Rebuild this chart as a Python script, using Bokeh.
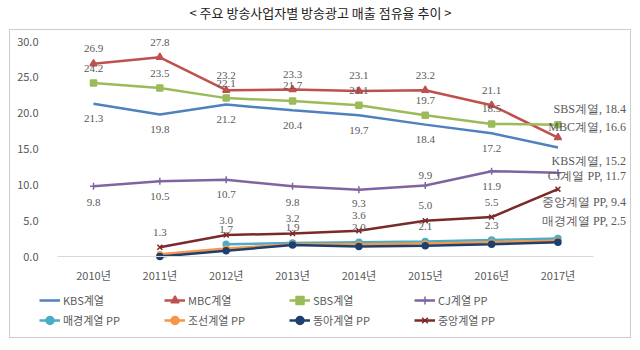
import math
from bokeh.plotting import figure
from bokeh.models import (ColumnDataSource, Range1d, FixedTicker, LabelSet, Label,
                          Legend, LegendItem, BoxAnnotation, NumeralTickFormatter)
from bokeh.embed import file_html
from bokeh.resources import INLINE

years = ["2010년", "2011년", "2012년", "2013년", "2014년", "2015년", "2016년", "2017년"]
N = float("nan")

kbs = [21.3, 19.8, 21.2, 20.4, 19.7, 18.4, 17.2, 15.2]
mbc = [26.9, 27.8, 23.2, 23.3, 23.1, 23.2, 21.1, 16.6]
sbs = [24.2, 23.5, 22.1, 21.7, 21.1, 19.7, 18.5, 18.4]
cj = [9.8, 10.5, 10.7, 9.8, 9.3, 9.9, 11.9, 11.7]
mk = [N, N, 1.7, 1.9, 2.0, 2.1, 2.3, 2.5]
chosun = [N, 0.3, 1.1, 1.7, 1.7, 1.8, 2.0, 2.2]
donga = [N, 0.0, 0.8, 1.6, 1.4, 1.5, 1.7, 2.0]
joongang = [N, 1.3, 3.0, 3.2, 3.6, 5.0, 5.5, 9.4]
y_ticks = [0, 5, 10, 15, 20, 25, 30]

names = ["KBS계열", "MBC계열", "SBS계열", "CJ계열 PP", "매경계열 PP", "조선계열 PP", "동아계열 PP", "중앙계열 PP"]
series = [kbs, mbc, sbs, cj, mk, chosun, donga, joongang]
colors = ["#4F81BD", "#C0504D", "#9BBB59", "#8064A2", "#4BACC6", "#F79646", "#1F3F6E", "#7A2A28"]
markers = [None, "triangle", "square", "cross", "circle", "circle", "circle", "x"]
msizes = [0, 7, 6, 7, 6, 5, 6, 7]
show_labels = [True, True, True, True, True, False, False, True]
# vertical offsets (px, positive = up) for the value labels of each series
label_dy = [
    [-15] * 7,
    [15] * 7,
    [15] * 7,
    [-16, -15, -15, -16, -14, 10, -15],
    [15] * 7,
    None, None,
    [15] * 7,
]
end_dy = [-13, 11, 16, -3, 18, 0, 0, -13]

FONT = "Noto Sans CJK KR"
TXT = "#595959"

# layout: the plotting frame covers the whole canvas; axes are pinned inside it
W, H = 640, 350
X0, DX = 93.0, 66.35        # pixel of first category, pixel step between categories
Y0, DY = 256.0, 215.0 / 30  # pixel of value 0, pixels per unit

p = figure(width=W, height=H,
           x_range=Range1d(-X0 / DX, (W - X0) / DX),
           y_range=Range1d(-(H - Y0) / DY, Y0 / DY),
           output_backend="svg", toolbar_location=None,
           min_border=0, outline_line_color=None)
p.grid.visible = False

xa = p.xaxis[0]
xa.fixed_location = 0
xa.bounds = (-0.54, 7.54)
xa.ticker = FixedTicker(ticks=list(range(len(years))))
xa.major_label_overrides = {i: y for i, y in enumerate(years)}
xa.axis_line_color = "#D9D9D9"
xa.axis_line_width = 1
xa.major_label_standoff = 4

ya = p.yaxis[0]
ya.fixed_location = -36 / DX
ya.ticker = FixedTicker(ticks=y_ticks)
ya.formatter = NumeralTickFormatter(format="0.0")
ya.axis_line_color = None
ya.major_label_standoff = 13

for ax in (xa, ya):
    ax.major_tick_line_color = None
    ax.minor_tick_line_color = None
    ax.major_label_text_font = FONT
    ax.major_label_text_font_size = "11px"
    ax.major_label_text_color = TXT

xs_all = list(range(len(years)))
items = []
for i, (name, vals, col, mk_, ms) in enumerate(zip(names, series, colors, markers, msizes)):
    src = ColumnDataSource(dict(x=xs_all, y=vals))
    rs = [p.line("x", "y", source=src, line_color=col, line_width=2.5)]
    if mk_ is not None:
        rs.append(p.scatter("x", "y", source=src, marker=mk_, size=ms, fill_color=col,
                            line_color=col, line_width=1.5))
    items.append(LegendItem(label=name, renderers=rs))

    if show_labels[i]:
        xs, ys, txt, dys = [], [], [], []
        for j in range(7):
            v = vals[j]
            if not math.isnan(v):
                xs.append(j); ys.append(v); txt.append(f"{v:.1f}")
                dys.append(label_dy[i][j])
        lsrc = ColumnDataSource(dict(x=xs, y=ys, t=txt, dy=dys))
        p.add_layout(LabelSet(x="x", y="y", text="t", source=lsrc, y_offset="dy",
                              text_align="center", text_baseline="middle",
                              text_font=FONT, text_font_size="11px", text_color=TXT))
        esrc = ColumnDataSource(dict(x=[7], y=[vals[7]], t=[f"{name}, {vals[7]:.1f}"],
                                     dy=[end_dy[i]]))
        p.add_layout(LabelSet(x="x", y="y", text="t", source=esrc, y_offset="dy", x_offset=68,
                              text_align="right", text_baseline="middle",
                              text_font=FONT, text_font_size="12px", text_color=TXT))

for row, vy in ((items[:4], 40), (items[4:], 20)):
    lg = Legend(items=row, orientation="horizontal", location=(39, vy),
                padding=0, margin=0, spacing=1, glyph_width=21, glyph_height=20,
                label_height=20, label_width=100, label_standoff=3,
                label_text_font=FONT, label_text_font_size="11px", label_text_color=TXT,
                border_line_color=None, background_fill_alpha=0)
    p.add_layout(lg)

p.add_layout(Label(x=W / 2, y=H - 12, x_units="screen", y_units="screen",
                   text="< 주요 방송사업자별 방송광고 매출 점유율 추이 >",
                   text_align="center", text_baseline="middle", text_font=FONT,
                   text_font_size="13px", text_color="#222222"))

p.add_layout(BoxAnnotation(left=9, right=630, top=29, bottom=337, left_units="canvas",
                           right_units="canvas", top_units="canvas", bottom_units="canvas",
                           fill_alpha=0, line_color="#595959", line_width=1))

open("out.html", "w").write(file_html(p, INLINE))
